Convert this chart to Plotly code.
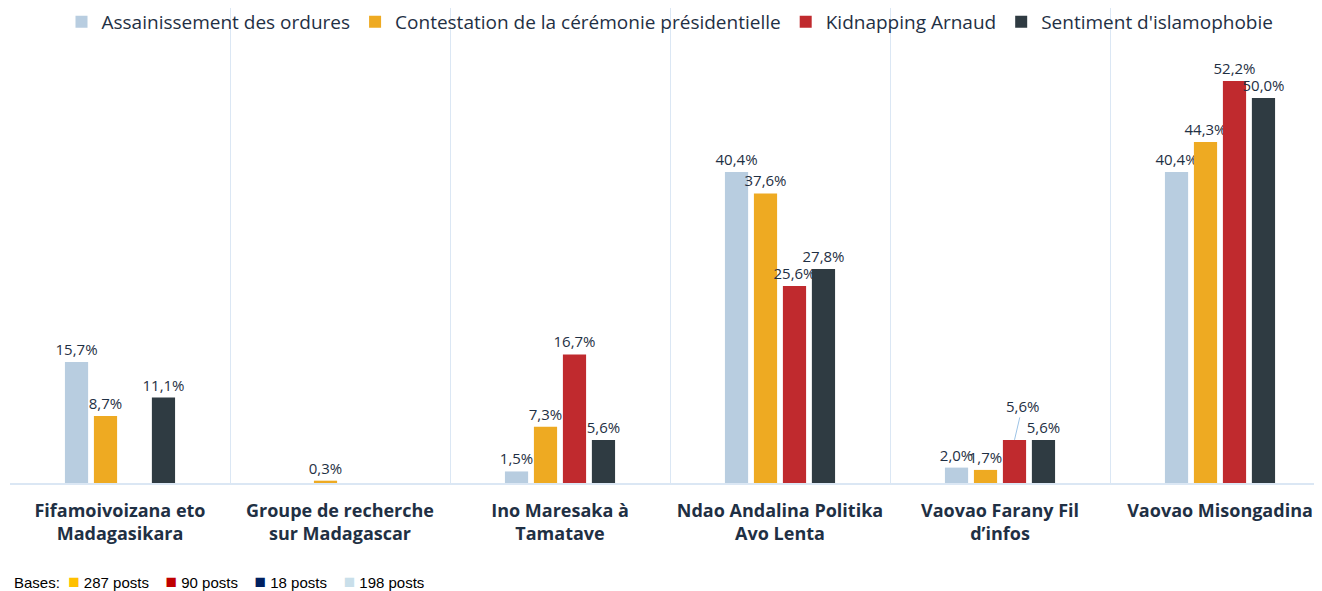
import plotly.graph_objects as go

categories = [
    "Fifamoivoizana eto<br>Madagasikara",
    "Groupe de recherche<br>sur Madagascar",
    "Ino Maresaka à<br>Tamatave",
    "Ndao Andalina Politika<br>Avo Lenta",
    "Vaovao Farany Fil<br>d’infos",
    "Vaovao Misongadina",
]
series_names = [
    "Assainissement des ordures",
    "Contestation de la cérémonie présidentielle",
    "Kidnapping Arnaud",
    "Sentiment d'islamophobie",
]
assainissement = [15.7, 0.0, 1.5, 40.4, 2.0, 40.4]
contestation = [8.7, 0.3, 7.3, 37.6, 1.7, 44.3]
kidnapping = [0.0, 0.0, 16.7, 25.6, 5.6, 52.2]
islamophobie = [11.1, 0.0, 5.6, 27.8, 5.6, 50.0]
bases_labels = ["287 posts", "90 posts", "18 posts", "198 posts"]
bases_colors = ["#ffc000", "#c00000", "#002060", "#c9dfea"]

colors = ["#b8cde0", "#eeaa22", "#c02a2e", "#2f3b42"]
values = [assainissement, contestation, kidnapping, islamophobie]

text_color = "#1f3044"
font_family = "Open Sans"

# the page body adds an 8px offset; figure coordinates below account for it
W, H = 1322, 591
M_T, M_B, M_L = 0, 116, 2
plot_h = H - M_T - M_B
px_per_unit = 7.7
y_top = plot_h / px_per_unit


def fmt(v):
    return (f"{v:.1f}".replace(".", ",") + "%") if v > 0 else ""


fig = go.Figure()
for i, (name, vals, col) in enumerate(zip(series_names, values, colors)):
    texts = [fmt(v) for v in vals]
    if i == 2:
        texts[4] = ""  # placed with a leader line below
    fig.add_trace(go.Bar(
        name=name,
        x=categories,
        y=vals,
        marker=dict(color=col, line=dict(width=0)),
        text=texts,
        textposition="outside",
        constraintext="none",
        cliponaxis=False,
        textfont=dict(family=font_family, size=15, color=text_color),
        hoverinfo="skip",
    ))

# Displaced label for Kidnapping Arnaud in "Vaovao Farany Fil d'infos"
fig.add_annotation(
    x=categories[4], y=kidnapping[4], xshift=14.5,
    text=fmt(kidnapping[4]), showarrow=True, arrowhead=0, arrowwidth=1,
    arrowcolor="#9dc3e6", ax=8, ay=-34,
    font=dict(family=font_family, size=15, color=text_color),
)

bases_html = "Bases:&nbsp; " + "&nbsp;&nbsp;&nbsp; ".join(
    f"<span style='color:{c};font-size:19px'>■</span> {t}"
    for c, t in zip(bases_colors, bases_labels)
)
fig.add_annotation(
    xref="paper", yref="paper", x=0, y=0, xanchor="left", yanchor="middle",
    yshift=-98, xshift=2, text=bases_html, showarrow=False,
    font=dict(family="Liberation Sans", size=15, color="#000000"),
)

fig.update_layout(
    width=W, height=H,
    margin=dict(l=M_L, r=0, t=M_T, b=M_B, autoexpand=False),
    paper_bgcolor="white", plot_bgcolor="white",
    barmode="group", bargap=0.473, bargroupgap=0.2,
    showlegend=True,
    legend=dict(
        orientation="h", x=0.5, xanchor="center",
        y=1 - 14 / plot_h, yanchor="middle",
        font=dict(family=font_family, size=19, color=text_color),
        bgcolor="rgba(255,255,255,0)", itemwidth=30,
    ),
    xaxis=dict(
        type="category", range=[-0.5, 5.5], automargin=False,
        tickson="boundaries", showgrid=True, gridcolor="#dbe7f4", gridwidth=1,
        ticks="", showline=True, linecolor="#dbe7f4", linewidth=2,
        tickfont=dict(family=font_family, size=18, color=text_color, weight="bold"),
        ticklabelstandoff=10,
    ),
    yaxis=dict(range=[0, y_top], showgrid=False, showticklabels=False,
               zeroline=False, showline=False, automargin=False),
    font=dict(family=font_family),
)

fig.write_html("out.html")
